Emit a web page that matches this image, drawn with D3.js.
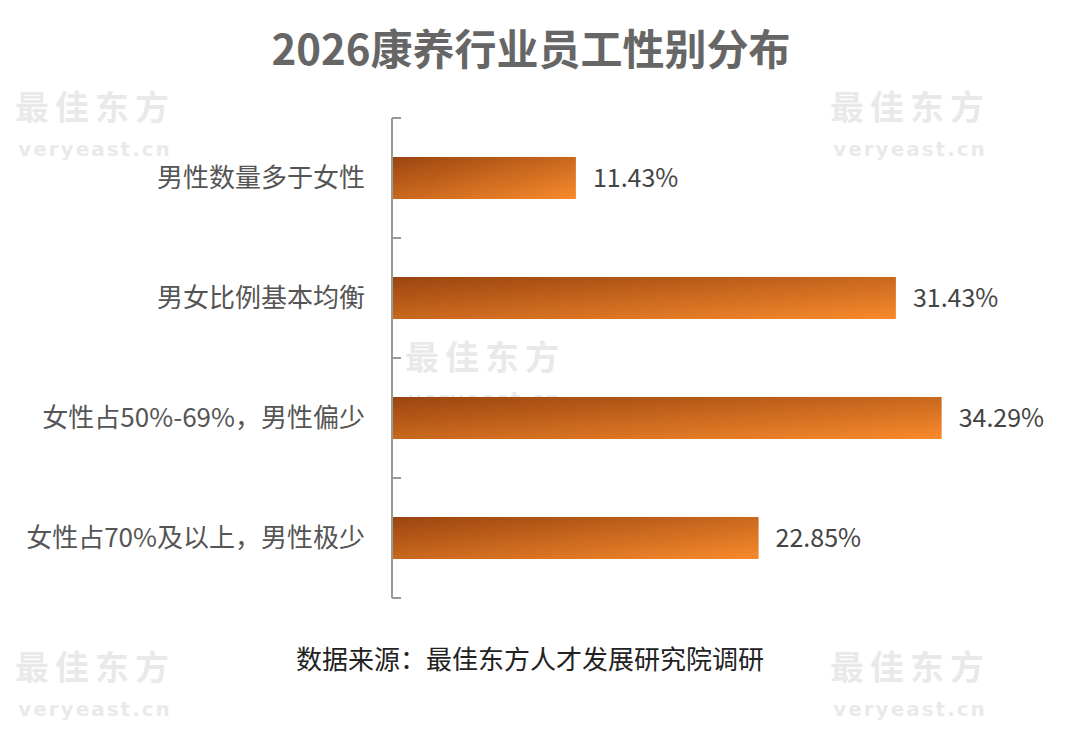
<!DOCTYPE html>
<html><head><meta charset="utf-8">
<script src="https://cdn.jsdelivr.net/npm/d3@7"></script>
<style>body{margin:0;background:#fff}svg{display:block}</style>
</head><body>
<svg id="chart" width="1080" height="735"></svg>
<script>
// data
const categories = ["男性数量多于女性", "男女比例基本均衡", "女性占50%-69%，男性偏少", "女性占70%及以上，男性极少"];
const values = [11.43, 31.43, 34.29, 22.85];
const labels = ["11.43%", "31.43%", "34.29%", "22.85%"];

const svg = d3.select("#chart");
const font = "'Noto Sans CJK SC', 'Noto Sans', sans-serif";
const margin = { left: 392, top: 118 };
const width = 640, height = 480;

// faint watermarks
const marks = [[910, 120], [485, 370], [910, 680], [95, 120], [95, 680]];
marks.forEach(([x, y]) => {
  const w = svg.append("g").attr("transform", `translate(${x},${y})`).attr("opacity", 0.12);
  w.append("text").attr("text-anchor", "middle").attr("font-family", font).attr("font-weight", "bold")
    .attr("font-size", 34).attr("fill", "#555").attr("letter-spacing", 6).text("最佳东方");
  w.append("text").attr("y", 36).attr("text-anchor", "middle").attr("font-family", "'DejaVu Sans'")
    .attr("font-weight", "bold").attr("font-size", 20).attr("fill", "#555").attr("letter-spacing", 2).text("veryeast.cn");
});

const defs = svg.append("defs");
const grad = defs.append("linearGradient").attr("id", "bar").attr("x1", 0).attr("y1", 0).attr("x2", 1).attr("y2", 1);
grad.append("stop").attr("offset", "0%").attr("stop-color", "#9a4510");
grad.append("stop").attr("offset", "100%").attr("stop-color", "#f88a2c");

svg.append("text").attr("x", 531).attr("y", 65).attr("text-anchor", "middle")
  .attr("font-family", font).attr("font-weight", "bold").attr("font-size", 42).attr("fill", "#666")
  .text("2026康养行业员工性别分布");

const g = svg.append("g").attr("transform", `translate(${margin.left},${margin.top})`);
const x = d3.scaleLinear().domain([0, 40]).range([0, width]);
const y = d3.scaleBand().domain(categories).range([0, height]).paddingInner(0.65).paddingOuter(0.325);

// axis with boundary ticks on the right side
g.append("line").attr("y1", 0).attr("y2", height).attr("stroke", "#999").attr("stroke-width", 2);
const bounds = categories.map(c => y(c) - y.step() * y.paddingInner() / 2).concat([height]);
g.selectAll(".tk").data(bounds).enter().append("line")
  .attr("x1", 0).attr("x2", 9).attr("y1", d => d).attr("y2", d => d)
  .attr("stroke", "#999").attr("stroke-width", 2);

g.selectAll(".bar").data(values).enter().append("rect")
  .attr("x", 1).attr("y", (d, i) => y(categories[i]))
  .attr("width", d => x(d)).attr("height", y.bandwidth())
  .attr("fill", "url(#bar)");

g.selectAll(".val").data(values).enter().append("text")
  .attr("x", d => x(d) + 18).attr("y", (d, i) => y(categories[i]) + y.bandwidth() / 2)
  .attr("dy", "0.35em").attr("font-family", font).attr("font-size", 25).attr("fill", "#444")
  .text((d, i) => labels[i]);

g.selectAll(".cat").data(categories).enter().append("text")
  .attr("x", -27).attr("y", d => y(d) + y.bandwidth() / 2)
  .attr("dy", "0.35em").attr("text-anchor", "end").attr("font-family", font).attr("font-size", 26).attr("fill", "#555")
  .text(d => d);

svg.append("text").attr("x", 530).attr("y", 669).attr("text-anchor", "middle")
  .attr("font-family", font).attr("font-size", 26).attr("fill", "#222")
  .text("数据来源：最佳东方人才发展研究院调研");
</script>
</body></html>
